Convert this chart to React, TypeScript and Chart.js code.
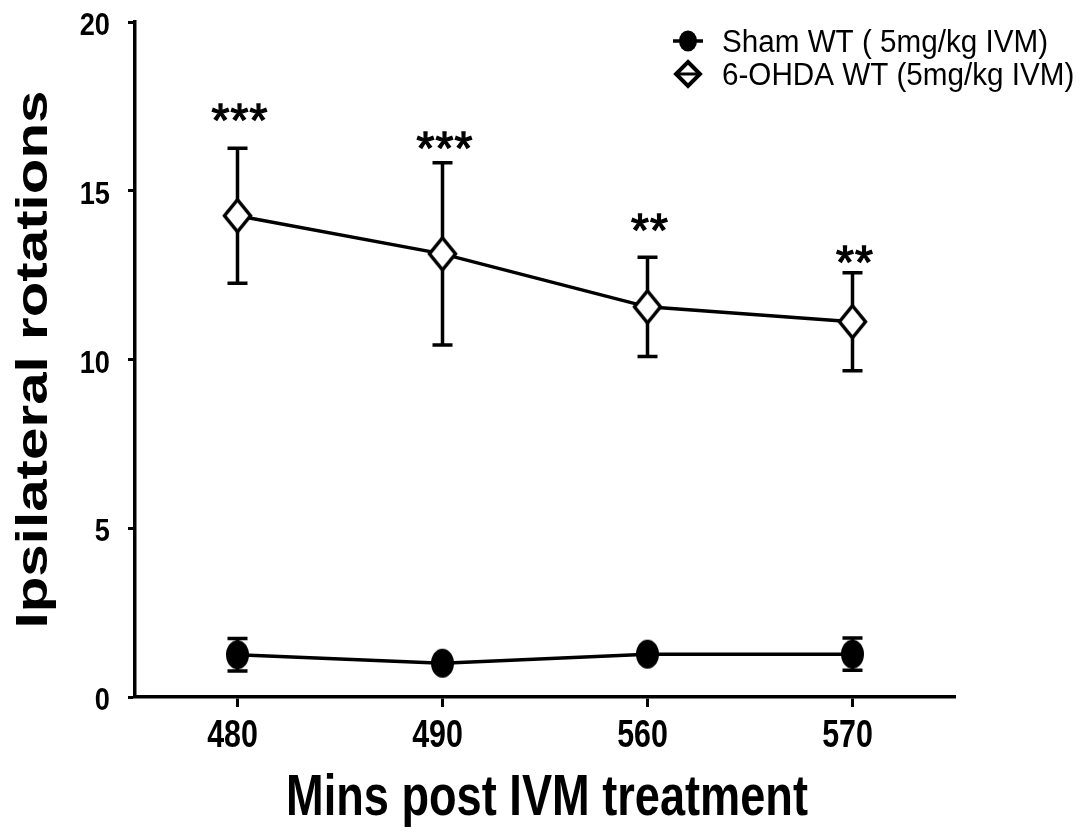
import React, { useEffect, useRef } from 'react';
import { Chart, registerables } from 'chart.js';

Chart.register(...registerables);

const categories = ['480', '490', '560', '570'];
const shamMean = [1.25, 1.0, 1.27, 1.27];
const shamSem = [0.48, 0, 0, 0.48];
const ohdaMean = [14.26, 13.13, 11.56, 11.12];
const ohdaSem = [2.0, 2.7, 1.47, 1.45];
const sigLabels = ['***', '***', '**', '**'];
const sigY = [17.33, 16.5, 14.07, 13.1];
const yTicks = [0, 5, 10, 15, 20];
const seriesNames = ['Sham WT ( 5mg/kg IVM)', '6-OHDA WT (5mg/kg IVM)'];
const xTitle = 'Mins post IVM treatment';
const yTitle = 'Ipsilateral rotations';

const SANS = '"Liberation Sans", Arial, sans-serif';

function ellipseImg(w: number, h: number) {
  const c = document.createElement('canvas');
  c.width = w + 2;
  c.height = h + 2;
  const ctx = c.getContext('2d')!;
  ctx.fillStyle = '#000';
  ctx.beginPath();
  ctx.ellipse(c.width / 2, c.height / 2, w / 2, h / 2, 0, 0, Math.PI * 2);
  ctx.fill();
  return c;
}

function diamondImg(w: number, h: number, lw: number) {
  const c = document.createElement('canvas');
  c.width = w + lw * 2;
  c.height = h + lw * 2;
  const ctx = c.getContext('2d')!;
  const cx = c.width / 2;
  const cy = c.height / 2;
  ctx.beginPath();
  ctx.moveTo(cx, cy - h / 2);
  ctx.lineTo(cx + w / 2, cy);
  ctx.lineTo(cx, cy + h / 2);
  ctx.lineTo(cx - w / 2, cy);
  ctx.closePath();
  ctx.fillStyle = '#fff';
  ctx.fill();
  ctx.lineWidth = lw;
  ctx.strokeStyle = '#000';
  ctx.lineJoin = 'miter';
  ctx.stroke();
  return c;
}

// draw text with a horizontal condensing factor (narrow face look-alike)
function drawText(ctx: CanvasRenderingContext2D, text: string, x: number, y: number, font: string, sx: number, align: CanvasTextAlign, stroke = 0) {
  ctx.save();
  ctx.font = font;
  ctx.textAlign = align;
  ctx.textBaseline = 'alphabetic';
  ctx.translate(x, y);
  ctx.scale(sx, 1);
  ctx.fillText(text, 0, 0);
  if (stroke) {
    ctx.lineWidth = stroke;
    ctx.strokeStyle = '#000';
    ctx.strokeText(text, 0, 0);
  }
  ctx.restore();
}

function fitScale(ctx: CanvasRenderingContext2D, text: string, font: string, width: number) {
  ctx.save();
  ctx.font = font;
  const w = ctx.measureText(text).width;
  ctx.restore();
  return width / w;
}

export default function App() {
  const ref = useRef<HTMLCanvasElement>(null);

  useEffect(() => {
    document.body.style.margin = '0';
    const canvas = ref.current!;
    const ellipse = ellipseImg(23, 29);
    const diamond = diamondImg(26, 32, 3.5);
    const semSets = [shamSem, ohdaSem];
    const meanSets = [shamMean, ohdaMean];

    const errorBars = {
      id: 'errorBars',
      beforeDatasetsDraw(chart: any) {
        const { ctx, scales } = chart;
        const xs = scales.x;
        const ys = scales.y;
        ctx.save();
        ctx.strokeStyle = '#000';
        ctx.lineWidth = 3.5;
        meanSets.forEach((means, i) => {
          means.forEach((m, j) => {
            const s = semSets[i][j];
            if (!s) return;
            const x = xs.getPixelForValue(j);
            const yt = ys.getPixelForValue(m + s);
            const yb = ys.getPixelForValue(m - s);
            ctx.beginPath();
            ctx.moveTo(x, yt);
            ctx.lineTo(x, yb);
            ctx.moveTo(x - 10, yt);
            ctx.lineTo(x + 10, yt);
            ctx.moveTo(x - 10, yb);
            ctx.lineTo(x + 10, yb);
            ctx.stroke();
          });
        });
        ctx.restore();
      },
    };

    const extras = {
      id: 'extras',
      afterDraw(chart: any) {
        const { ctx, scales, chartArea } = chart;
        const xs = scales.x;
        const ys = scales.y;
        ctx.save();
        ctx.fillStyle = '#000';

        // y tick labels
        const yFont = `bold 32px ${SANS}`;
        yTicks.forEach((v) => {
          drawText(ctx, String(v), 110, ys.getPixelForValue(v) + 13, yFont, 0.85, 'right');
        });
        // x tick labels
        const xFont = `bold 38px ${SANS}`;
        categories.forEach((c, j) => {
          drawText(ctx, c, xs.getPixelForValue(j) - 5, 747, xFont, 0.8, 'center');
        });

        // significance labels: stars drawn one by one with gaps
        const sFont = `46px ${SANS}`;
        ctx.font = sFont;
        const sm = ctx.measureText('*');
        const gap = 19;
        sigLabels.forEach((t, j) => {
          const cy = ys.getPixelForValue(sigY[j]);
          const base = cy + (sm.actualBoundingBoxAscent - sm.actualBoundingBoxDescent) / 2;
          const cx = xs.getPixelForValue(j) + 2;
          const n = t.length;
          for (let k = 0; k < n; k++) {
            drawText(ctx, t[k], cx + (k - (n - 1) / 2) * gap, base, sFont, 1, 'center', 1.3);
          }
        });

        // x title
        const xtFont = `bold 58px ${SANS}`;
        drawText(ctx, xTitle, 547, 815, xtFont, fitScale(ctx, xTitle, xtFont, 522), 'center');

        // y title
        const ytFont = `bold 45px ${SANS}`;
        const ysx = fitScale(ctx, yTitle, ytFont, 538);
        ctx.save();
        ctx.translate(47, (chartArea.top + chartArea.bottom) / 2);
        ctx.rotate(-Math.PI / 2);
        drawText(ctx, yTitle, 0, 0, ytFont, ysx, 'center');
        ctx.restore();

        // legend
        const lx = 688;
        const ly = [41, 74];
        ctx.strokeStyle = '#000';
        ctx.lineWidth = 3.5;
        ctx.beginPath();
        ctx.moveTo(lx - 15, ly[0]);
        ctx.lineTo(lx + 15, ly[0]);
        ctx.stroke();
        ctx.beginPath();
        ctx.ellipse(lx, ly[0], 9, 10.5, 0, 0, Math.PI * 2);
        ctx.fill();
        ctx.lineWidth = 4;
        ctx.beginPath();
        ctx.moveTo(lx, ly[1] - 12);
        ctx.lineTo(lx + 12, ly[1]);
        ctx.lineTo(lx, ly[1] + 12);
        ctx.lineTo(lx - 12, ly[1]);
        ctx.closePath();
        ctx.fillStyle = '#fff';
        ctx.fill();
        ctx.stroke();
        ctx.lineWidth = 3;
        ctx.beginPath();
        ctx.moveTo(lx - 12, ly[1]);
        ctx.lineTo(lx + 12, ly[1]);
        ctx.stroke();
        ctx.fillStyle = '#000';
        const lFont = `31px ${SANS}`;
        const lsx = fitScale(ctx, seriesNames[0], lFont, 326);
        seriesNames.forEach((n, i) => drawText(ctx, n, 722, ly[i] + 11, lFont, lsx, 'left'));
        ctx.restore();
      },
    };

    const chart = new Chart(canvas, {
      type: 'line',
      data: {
        labels: categories,
        datasets: [
          {
            label: seriesNames[0],
            data: shamMean,
            borderColor: '#000',
            borderWidth: 3.5,
            pointStyle: ellipse as any,
            tension: 0,
          },
          {
            label: seriesNames[1],
            data: ohdaMean,
            borderColor: '#000',
            borderWidth: 3.5,
            pointStyle: diamond as any,
            tension: 0,
          },
        ],
      },
      options: {
        responsive: false,
        animation: false,
        layout: { padding: { top: 22, right: 130, left: 0, bottom: 0 } },
        plugins: { legend: { display: false }, tooltip: { enabled: false } },
        scales: {
          x: {
            type: 'category',
            offset: true,
            grid: { display: true, drawOnChartArea: false, tickLength: 10, tickWidth: 3, tickColor: '#000' },
            border: { color: '#000', width: 3.5 },
            ticks: { display: false },
            afterFit: (s: any) => { s.height = 134; },
          },
          y: {
            min: 0,
            max: 20,
            afterBuildTicks: (s: any) => { s.ticks = yTicks.map((v) => ({ value: v })); },
            grid: { display: true, drawOnChartArea: false, tickLength: 7, tickWidth: 3, tickColor: '#000' },
            border: { color: '#000', width: 3.5 },
            ticks: { display: false },
            afterFit: (s: any) => { s.width = 135; },
          },
        },
      },
      plugins: [errorBars, extras],
    });
    return () => chart.destroy();
  }, []);

  return (
    <div style={{ width: 1085, height: 831 }}>
      <canvas ref={ref} width={1085} height={831} style={{ display: 'block' }} />
    </div>
  );
}
